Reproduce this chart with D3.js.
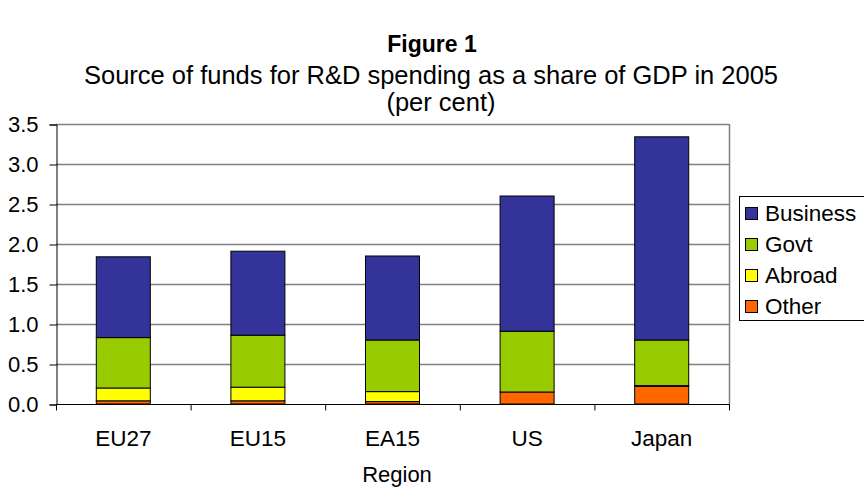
<!DOCTYPE html>
<html lang="en">
<head>
<meta charset="utf-8">
<title>Figure 1</title>
<script src="https://d3js.org/d3.v7.min.js"></script>
<style>
  body { margin: 0; background: #ffffff; }
  svg { display: block; font-family: "Liberation Sans", Arial, sans-serif; }
</style>
</head>
<body>
<script>
// values (per cent of GDP)
var regions  = ["EU27", "EU15", "EA15", "US", "Japan"];
var other    = [0.04, 0.04, 0.03, 0.15, 0.22];
var abroad   = [0.16, 0.17, 0.125, 0.0, 0.01];
var govt     = [0.63, 0.65, 0.645, 0.76, 0.57];
var business = [1.01, 1.05, 1.05, 1.69, 2.54];

var seriesNames  = ["Other", "Abroad", "Govt", "Business"];
var seriesColors = ["#ff6600", "#ffff00", "#99cc00", "#333399"];
var yTicks = [0, 0.5, 1.0, 1.5, 2.0, 2.5, 3.0, 3.5];

var width = 864, height = 487;
var plot = { left: 56, right: 729, top: 124, bottom: 404 };

// build rows for d3.stack
var rows = regions.map(function(r, i) {
  return { region: r, Other: other[i], Abroad: abroad[i], Govt: govt[i], Business: business[i] };
});
var stacked = d3.stack().keys(seriesNames)(rows);

var svg = d3.select("body").append("svg")
  .attr("width", width)
  .attr("height", height);

var x = d3.scaleBand()
  .domain(regions)
  .range([plot.left, plot.right])
  .paddingInner(0)
  .paddingOuter(0);

var y = d3.scaleLinear()
  .domain([0, 3.5])
  .range([plot.bottom, plot.top]);

// titles
svg.append("text")
  .attr("x", 432).attr("y", 52)
  .attr("text-anchor", "middle")
  .style("font-size", "23px").style("font-weight", "bold")
  .text("Figure 1");

svg.append("text")
  .attr("x", 431).attr("y", 84)
  .attr("text-anchor", "middle")
  .style("font-size", "25.5px")
  .text("Source of funds for R&D spending as a share of GDP in 2005");

svg.append("text")
  .attr("x", 441).attr("y", 111)
  .attr("text-anchor", "middle")
  .style("font-size", "25.5px")
  .text("(per cent)");

// gridlines
svg.append("g")
  .selectAll("line")
  .data(yTicks.filter(function(d) { return d > 0; }))
  .enter().append("line")
  .attr("x1", plot.left).attr("x2", plot.right)
  .attr("y1", function(d) { return y(d) + 0.5; })
  .attr("y2", function(d) { return y(d) + 0.5; })
  .attr("stroke", "#808080")
  .attr("stroke-width", 1.5);

// plot border right
svg.append("line")
  .attr("x1", plot.right + 0.5).attr("x2", plot.right + 0.5)
  .attr("y1", plot.top).attr("y2", plot.bottom)
  .attr("stroke", "#808080").attr("stroke-width", 1.5);

// bars
var barW = 54;
svg.append("g")
  .selectAll("g")
  .data(stacked)
  .enter().append("g")
  .attr("fill", function(d, i) { return seriesColors[i]; })
  .selectAll("rect")
  .data(function(d) { return d; })
  .enter().append("rect")
  .attr("x", function(d) { return x(d.data.region) + x.bandwidth() / 2 - barW / 2; })
  .attr("width", barW)
  .attr("y", function(d) { return y(d[1]); })
  .attr("height", function(d) { return y(d[0]) - y(d[1]); })
  .attr("stroke", "#000")
  .attr("stroke-width", 1);

// y axis
var yAxis = d3.axisLeft(y)
  .tickValues(yTicks)
  .tickFormat(d3.format(".1f"))
  .tickSizeOuter(0)
  .tickSize(7)
  .tickPadding(11);

var gy = svg.append("g")
  .attr("transform", "translate(" + (plot.left + 0.5) + ",0.5)")
  .call(yAxis);
gy.select(".domain").attr("stroke", "#000");
gy.selectAll("line").attr("stroke", "#000");
gy.selectAll("text")
  .style("font-size", "22px")
  .attr("fill", "#000")
  .attr("font-family", null);

// x axis (ticks at band boundaries)
var gx = svg.append("g")
  .attr("transform", "translate(0," + (plot.bottom + 0.5) + ")");
gx.append("line")
  .attr("x1", plot.left).attr("x2", plot.right + 1)
  .attr("stroke", "#000");
var boundaries = regions.map(function(r) { return x(r); }).concat([plot.right]);
gx.selectAll(".tick")
  .data(boundaries)
  .enter().append("line")
  .attr("x1", function(d) { return d + 0.5; })
  .attr("x2", function(d) { return d + 0.5; })
  .attr("y1", 0).attr("y2", 6)
  .attr("stroke", "#000");
gx.selectAll("text")
  .data(regions)
  .enter().append("text")
  .attr("x", function(d) { return x(d) + x.bandwidth() / 2; })
  .attr("y", 41)
  .attr("text-anchor", "middle")
  .style("font-size", "22.5px")
  .text(function(d) { return d; });

svg.append("text")
  .attr("x", 397).attr("y", 482)
  .attr("text-anchor", "middle")
  .style("font-size", "22px")
  .text("Region");

// legend
var legend = svg.append("g").attr("transform", "translate(739,196)");
legend.append("rect")
  .attr("x", 0.5).attr("y", 0.5)
  .attr("width", 140).attr("height", 124)
  .attr("fill", "#fff")
  .attr("stroke", "#000");

var legendOrder = ["Business", "Govt", "Abroad", "Other"];
var items = legend.selectAll(".item")
  .data(legendOrder)
  .enter().append("g")
  .attr("transform", function(d, i) { return "translate(6," + (17 + i * 31) + ")"; });
items.append("rect")
  .attr("x", 0.5).attr("y", -5.5)
  .attr("width", 12).attr("height", 12)
  .attr("fill", function(d) { return seriesColors[seriesNames.indexOf(d)]; })
  .attr("stroke", "#000");
items.append("text")
  .attr("x", 20).attr("y", 8)
  .style("font-size", "22.5px")
  .text(function(d) { return d; });
</script>
</body>
</html>
